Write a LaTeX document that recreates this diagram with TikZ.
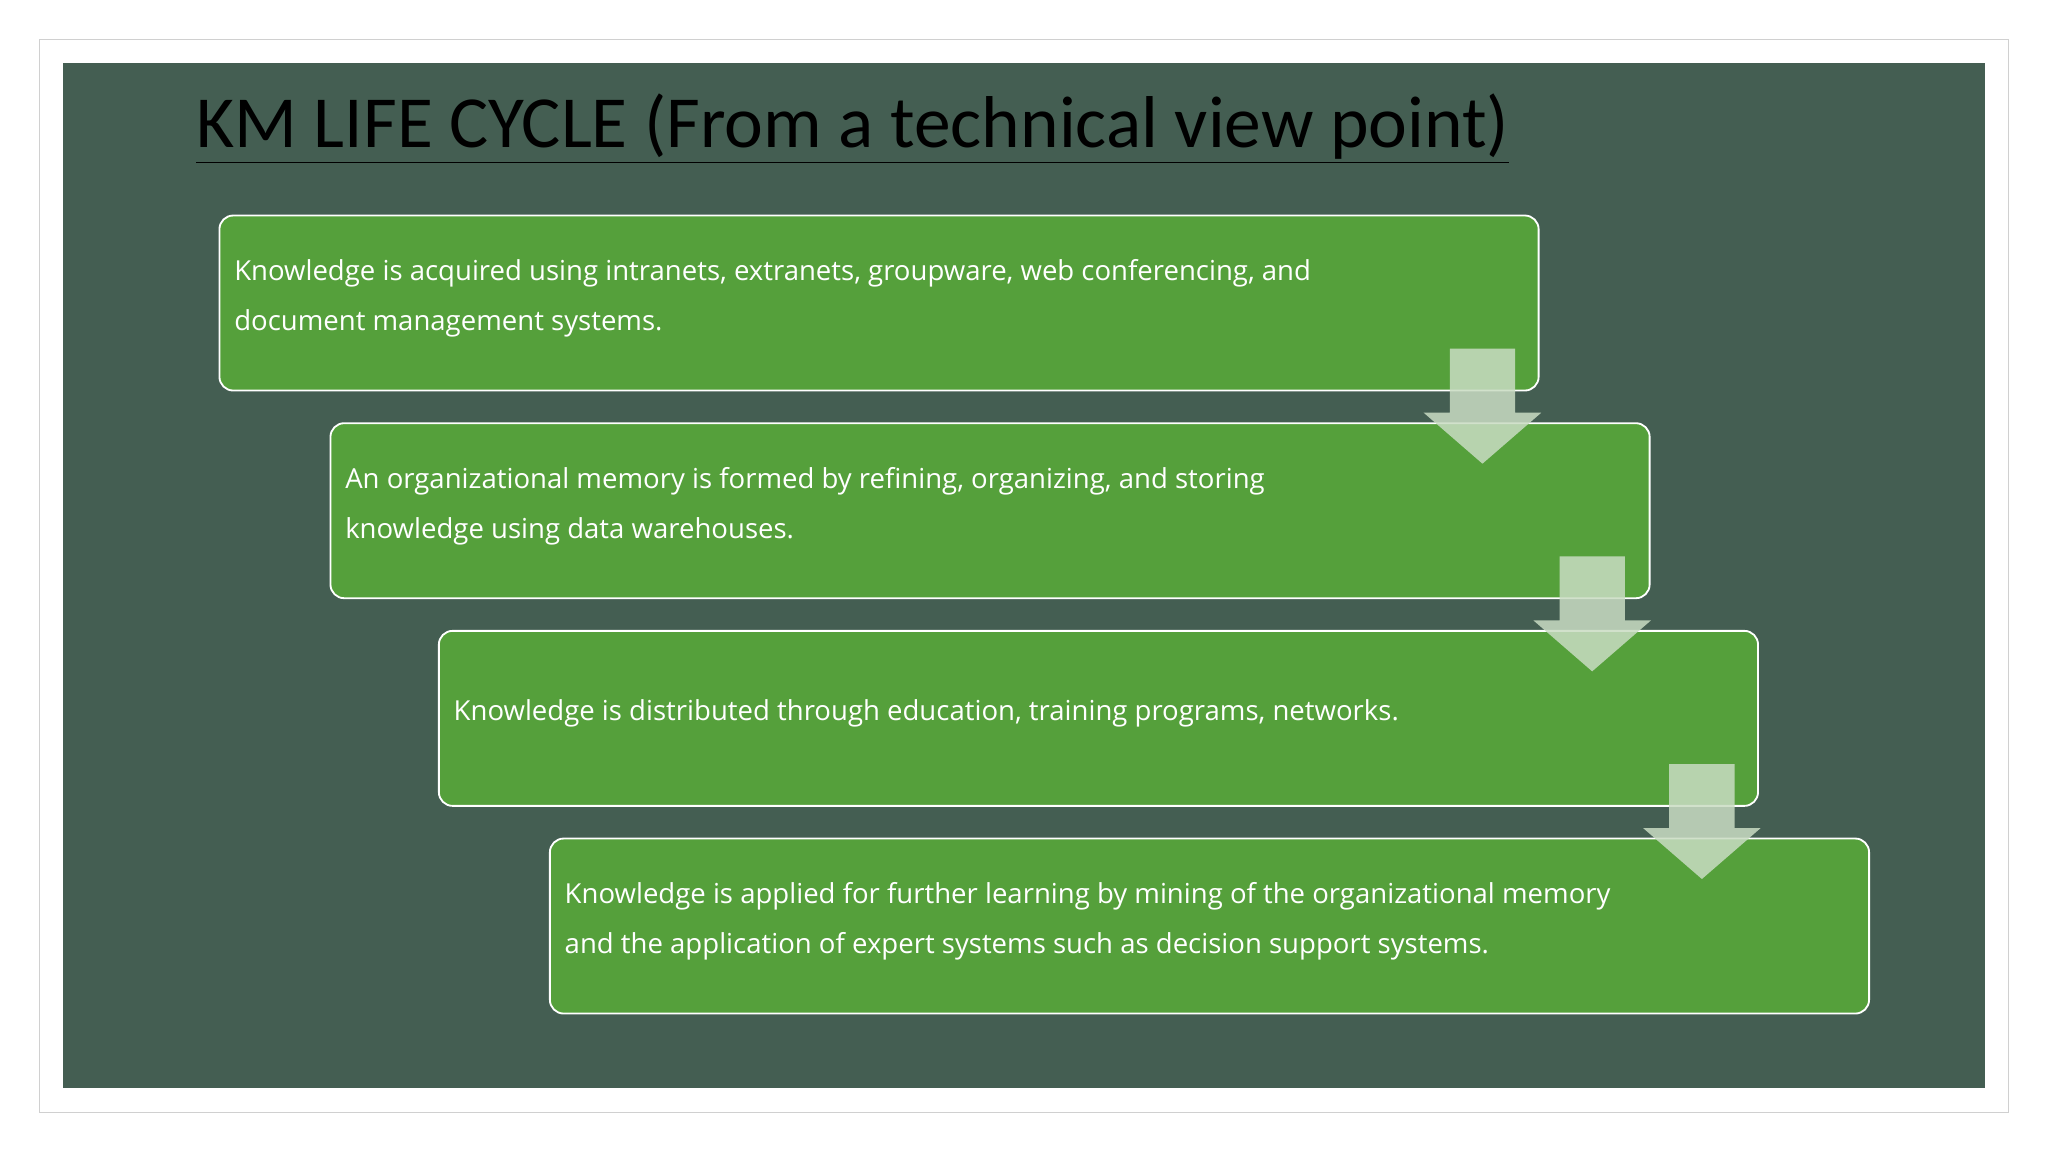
\documentclass[tikz,border=0pt]{standalone}
\usepackage{fontspec}
\setmainfont{Open Sans}
\newfontfamily\titlefont{Carlito}
\usetikzlibrary{positioning, calc}
\definecolor{panelgreen}{HTML}{445E52}
\definecolor{boxgreen}{HTML}{55A03B}
\definecolor{arrowgreen}{HTML}{C9DCC3}
\definecolor{framegray}{HTML}{D0D0D0}

\begin{document}
\begin{tikzpicture}[x=0.02cm, y=-0.02cm,
	                    stage/.style={draw=white,
	                                 thick,
	                                 fill=boxgreen,
	                                 rounded corners=6pt},
	                    stagetext/.style={anchor=base west,
	                                     align=left,
	                                     inner sep=0pt,
	                                     text=white,
	                                     font=\fontsize{12}{21.6}\selectfont},
	                    down/.style={fill=arrowgreen,
	                                 fill opacity=0.85}]
	\useasboundingbox (0,0) rectangle (1568,882);
	\fill[white] (0,0) rectangle (1568,882);
	\draw[framegray] (30,30) rectangle (1538,852);
	\fill[panelgreen] (48,48) rectangle (1520,833);

	\node[anchor=base west, inner sep=0pt, font=\titlefont\fontsize{32}{34}\selectfont] (Title) at (150,113) {\underline{KM LIFE CYCLE (From a technical view point)}};

	% the four stages
	\draw[stage] (168,165) rectangle (1178,299);
	\draw[stage] (253,324) rectangle (1263,458);
	\draw[stage] (336,483) rectangle (1346,617);
	\draw[stage] (421,642) rectangle (1431,776);

	\node[stagetext] (Acquire) at (179,253) {Knowledge is acquired using intranets, extranets, groupware, web conferencing, and\\document management systems.};
	\node[stagetext] (Refine) at (264,412) {An organizational memory is formed by refining, organizing, and storing\\knowledge using data warehouses.};
	\node[stagetext] (Distribute) at (347,552) {Knowledge is distributed through education, training programs, networks.};
	\node[stagetext] (Apply) at (432,730) {Knowledge is applied for further learning by mining of the organizational memory\\and the application of expert systems such as decision support systems.};

	% block arrows between stages
	\foreach \dx/\dy in {0/0, 84/159, 168/318}{
		\fill[down] ($(1110,267)+(\dx,\dy)$) -- ++(50,0) -- ++(0,49) -- ++(20,0)
			-- ++(-45,39) -- ++(-45,-39) -- ++(20,0) -- cycle;
	}
\end{tikzpicture}
\end{document}
